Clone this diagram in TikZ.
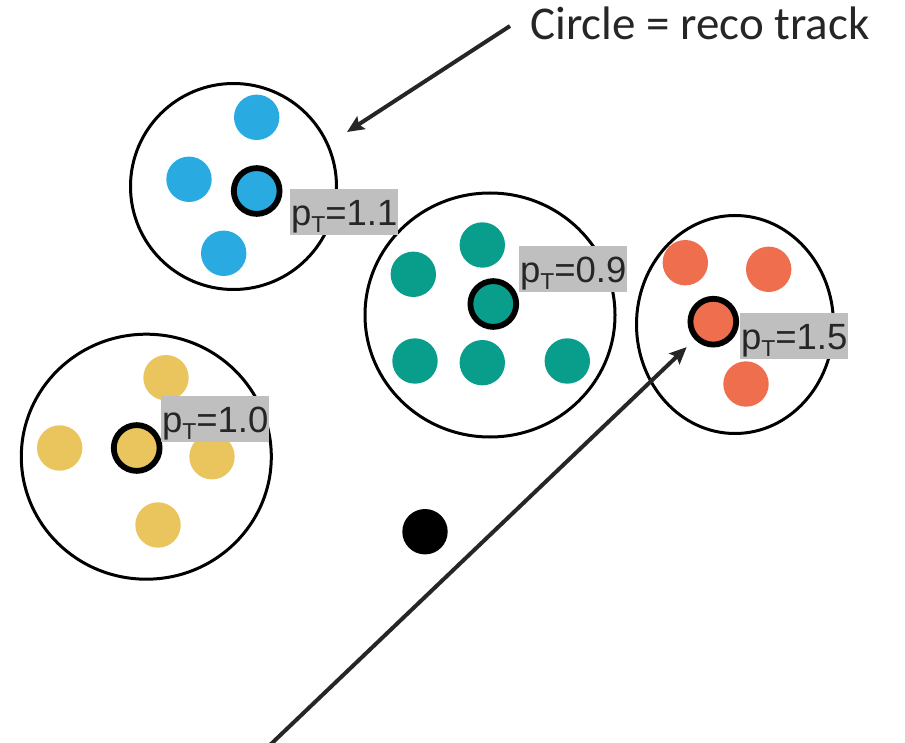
\documentclass[tikz,border=0pt]{standalone}
\usepackage{fontspec}
\setmainfont{Liberation Sans}
\newfontfamily\captionfont{Carlito}
\usetikzlibrary{shapes.geometric,arrows.meta}

\definecolor{hitblue}{RGB}{41,171,226}
\definecolor{hitteal}{RGB}{9,158,140}
\definecolor{hitred}{RGB}{238,110,77}
\definecolor{hityellow}{RGB}{234,197,94}
\definecolor{boxgray}{RGB}{191,191,191}
\definecolor{inkgray}{RGB}{38,38,38}

% transverse momentum symbol with a lowered T
\newcommand\ptsym{p\raisebox{-7.5pt}{\fontsize{23}{23}\selectfont T}}

\begin{document}
\begin{tikzpicture}[x=1pt,y=-1pt,
  track/.style={ellipse, draw=black, line width=3pt, inner sep=0pt},
  hit/.style={circle, inner sep=0pt, minimum size=45.4pt},
  seed/.style={hit, draw=black, line width=5.8pt, minimum size=45.8pt},
  ptlabel/.style={anchor=north west, fill=boxgray, text=inkgray,
    font=\fontsize{36.5}{36.5}\selectfont, inner sep=0pt,
    minimum width=108pt, minimum height=46pt, text height=26pt, text depth=0pt},
  pointer/.style={draw=inkgray, line width=4pt,
    -{Stealth[length=17pt,width=15pt,inset=3pt]}}]

\useasboundingbox (0,0) rectangle (905,743);

% reconstructed tracks
\node[track, minimum width=206pt, minimum height=206pt] (bluetrack) at (233.5,186.5) {};
\node[track, minimum width=250pt, minimum height=244pt] (tealtrack) at (490,315) {};
\node[track, minimum width=197pt, minimum height=218pt] (redtrack) at (735,324.5) {};
\node[track, minimum width=250pt, minimum height=245pt] (yellowtrack) at (146.3,456.7) {};

% blue cluster
\node[hit, fill=hitblue] (blue1) at (256.7,117.3) {};
\node[hit, fill=hitblue] (blue2) at (189,179.3) {};
\node[hit, fill=hitblue] (blue3) at (223.7,253.3) {};
\node[seed, fill=hitblue] (blueseed) at (256.7,191) {};

% teal cluster
\node[hit, fill=hitteal] (teal1) at (482.3,245) {};
\node[hit, fill=hitteal] (teal2) at (413.3,274.3) {};
\node[hit, fill=hitteal] (teal3) at (415,361) {};
\node[hit, fill=hitteal] (teal4) at (482.3,362.7) {};
\node[hit, fill=hitteal] (teal5) at (567.3,361) {};
\node[seed, fill=hitteal] (tealseed) at (493.3,304) {};

% red cluster
\node[hit, fill=hitred] (red1) at (685.3,262.7) {};
\node[hit, fill=hitred] (red2) at (768.7,269.3) {};
\node[hit, fill=hitred] (red3) at (746,384) {};
\node[seed, fill=hitred] (redseed) at (713.3,321.7) {};

% yellow cluster
\node[hit, fill=hityellow] (yellow1) at (166,377.7) {};
\node[hit, fill=hityellow] (yellow2) at (59.7,448) {};
\node[hit, fill=hityellow] (yellow3) at (212,456.7) {};
\node[hit, fill=hityellow] (yellow4) at (158,525) {};
\node[seed, fill=hityellow] (yellowseed) at (136.7,448) {};

% isolated hit
\node[hit, fill=black] (lonehit) at (425,531.7) {};

% momentum labels
\node[ptlabel] (bluept) at (290,189) {\ptsym=1.1};
\node[ptlabel] (tealpt) at (519,246) {\ptsym=0.9};
\node[ptlabel] (redpt) at (740,313) {\ptsym=1.5};
\node[ptlabel] (yellowpt) at (161,396) {\ptsym=1.0};

% caption and pointers
\node[anchor=base west, inner sep=0pt, text=inkgray,
  font=\captionfont\fontsize{47}{47}\selectfont] (caption) at (530,39.5) {Circle = reco track};
\coordinate (capfoot) at (510,26);
\coordinate (captip) at (347,132);
\draw[pointer] (capfoot) -- (captip);

\coordinate (trackfoot) at (270,745);
\draw[pointer, shorten >=11pt] (trackfoot) -- (redseed);
\end{tikzpicture}
\end{document}
